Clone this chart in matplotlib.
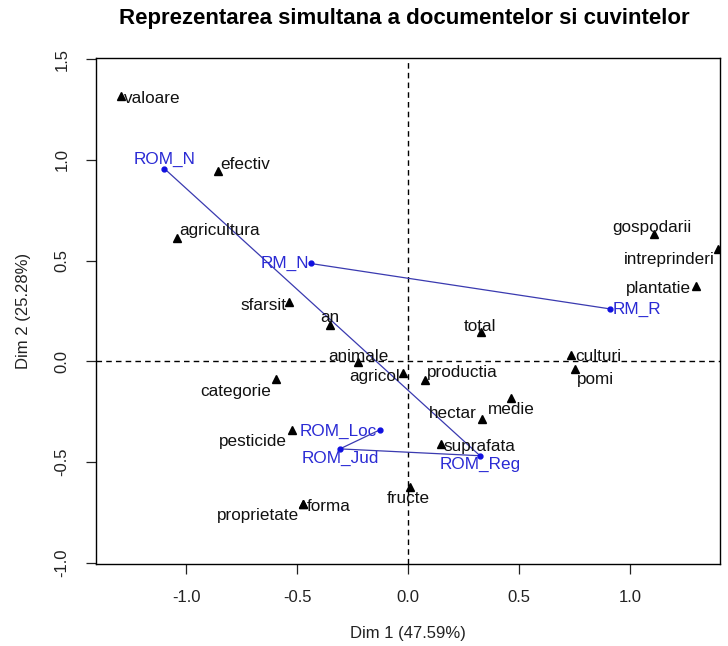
import matplotlib
matplotlib.use("Agg")
import matplotlib.pyplot as plt

plt.rcParams['font.family'] = ['Liberation Sans', 'DejaVu Sans']

# ---- data (column points: words) ----
words = ["valoare", "efectiv", "agricultura", "sfarsit", "an", "animale", "agricol",
         "productia", "total", "culturi", "pomi", "medie", "hectar", "suprafata",
         "fructe", "categorie", "pesticide", "forma", "proprietate", "gospodarii",
         "intreprinderi", "plantatie"]
words_dim1 = [-1.296, -0.856, -1.043, -0.539, -0.353, -0.225, -0.022,
              0.077, 0.326, 0.734, 0.751, 0.464, 0.331, 0.149,
              0.006, -0.596, -0.524, -0.473, -0.476, 1.108,
              1.396, 1.295]
words_dim2 = [1.319, 0.945, 0.614, 0.294, 0.183, -0.003, -0.058,
              -0.091, 0.146, 0.030, -0.036, -0.179, -0.284, -0.411,
              -0.622, -0.088, -0.340, -0.705, -0.708, 0.630,
              0.556, 0.373]

# ---- data (row points: documents) ----
docs = ["ROM_N", "RM_N", "RM_R", "ROM_Reg", "ROM_Loc", "ROM_Jud"]
docs_dim1 = [-1.099, -0.440, 0.907, 0.323, -0.129, -0.308]
docs_dim2 = [0.957, 0.486, 0.261, -0.468, -0.340, -0.434]
doc_paths = [["ROM_N", "ROM_Reg", "ROM_Jud", "ROM_Loc"], ["RM_N", "RM_R"]]

title = "Reprezentarea simultana a documentelor si cuvintelor"
xlabel = "Dim 1 (47.59%)"
ylabel = "Dim 2 (25.28%)"
xticks = [-1.0, -0.5, 0.0, 0.5, 1.0]
yticks = [-1.0, -0.5, 0.0, 0.5, 1.0, 1.5]

# ---- label placement (pixel offsets, alignment) ----
word_lab = {
    "valoare": (3, -3, "left"), "efectiv": (2, 6, "left"), "agricultura": (2, 7, "left"),
    "sfarsit": (-2, -3, "right"), "an": (0, 7, "center"), "animale": (0, 6, "center"),
    "agricol": (-3, -3, "right"), "productia": (2, 7, "left"), "total": (-1, 6, "center"),
    "culturi": (4, -1, "left"), "pomi": (2, -11, "left"), "medie": (0, -12, "center"),
    "hectar": (-5, 5, "right"), "suprafata": (2, -2, "left"), "fructe": (-1, -12, "center"),
    "categorie": (-5, -12, "right"), "pesticide": (-5, -12, "right"), "forma": (3, -3, "left"),
    "proprietate": (-3, -11, "right"), "gospodarii": (-2, 7, "center"),
    "intreprinderi": (-3, -10, "right"), "plantatie": (-5, -2, "right"),
}
doc_lab = {
    "ROM_N": (0, 9, "center"), "RM_N": (-2, 0, "right"), "RM_R": (3, -1, "left"),
    "ROM_Reg": (0, -9, "center"), "ROM_Loc": (-3, -1, "right"), "ROM_Jud": (0, -10, "center"),
}

DPI = 100
PX = 72.0 / DPI
blue_txt = "#2a2ad4"
blue_pt = "#1010e0"
line_col = "#3a3ab0"

fig = plt.figure(figsize=(7.28, 6.46), dpi=DPI)
ax = fig.add_axes([0.1315, 0.127, 0.8575, 0.783])
ax.set_xlim(-1.408, 1.404)
ax.set_ylim(-1.005, 1.505)

ax.axvline(0, color="black", lw=1.0, ls=(0, (4, 3)), zorder=1)
ax.axhline(0, color="black", lw=1.0, ls=(0, (4, 3)), zorder=1)

# lines between documents
doc_idx = {d: i for i, d in enumerate(docs)}
for path in doc_paths:
    xs = [docs_dim1[doc_idx[d]] for d in path]
    ys = [docs_dim2[doc_idx[d]] for d in path]
    ax.plot(xs, ys, color=line_col, lw=0.9, zorder=2)

ax.plot(words_dim1, words_dim2, ls="none", marker="^", ms=6.0, color="black",
        zorder=3, clip_on=True)
ax.plot(docs_dim1, docs_dim2, ls="none", marker="o", ms=3.5, color=blue_pt, zorder=3)

fs = 12.3
for w, x, y in zip(words, words_dim1, words_dim2):
    dx, dy, ha = word_lab[w]
    ax.annotate(w, (x, y), xytext=(dx * PX, dy * PX), textcoords="offset points",
                ha=ha, va="center", fontsize=fs, color="#111111", zorder=4,
                annotation_clip=False)
for d, x, y in zip(docs, docs_dim1, docs_dim2):
    dx, dy, ha = doc_lab[d]
    ax.annotate(d, (x, y), xytext=(dx * PX, dy * PX), textcoords="offset points",
                ha=ha, va="center", fontsize=fs, color=blue_txt, zorder=4)

ax.set_xticks(xticks)
ax.set_yticks(yticks)
ax.set_xticklabels([f"{t:.1f}" for t in xticks])
ax.set_yticklabels([f"{t:.1f}" for t in yticks], rotation=90, va="center")
ax.tick_params(direction="out", length=7, width=0.9, labelsize=12, colors="#222222",
               pad=12)
for s in ax.spines.values():
    s.set_linewidth(1.0)
    s.set_color("black")

fig.text(0.555, 0.971, title, ha="center", va="center", fontsize=16,
         fontweight="bold")
fig.text(0.5605, 0.02, xlabel, ha="center", va="center", fontsize=12, color="#222222")
fig.text(0.032, 0.518, ylabel, ha="center", va="center", rotation=90, fontsize=12,
         color="#222222")

fig.savefig("out.png", dpi=DPI)
